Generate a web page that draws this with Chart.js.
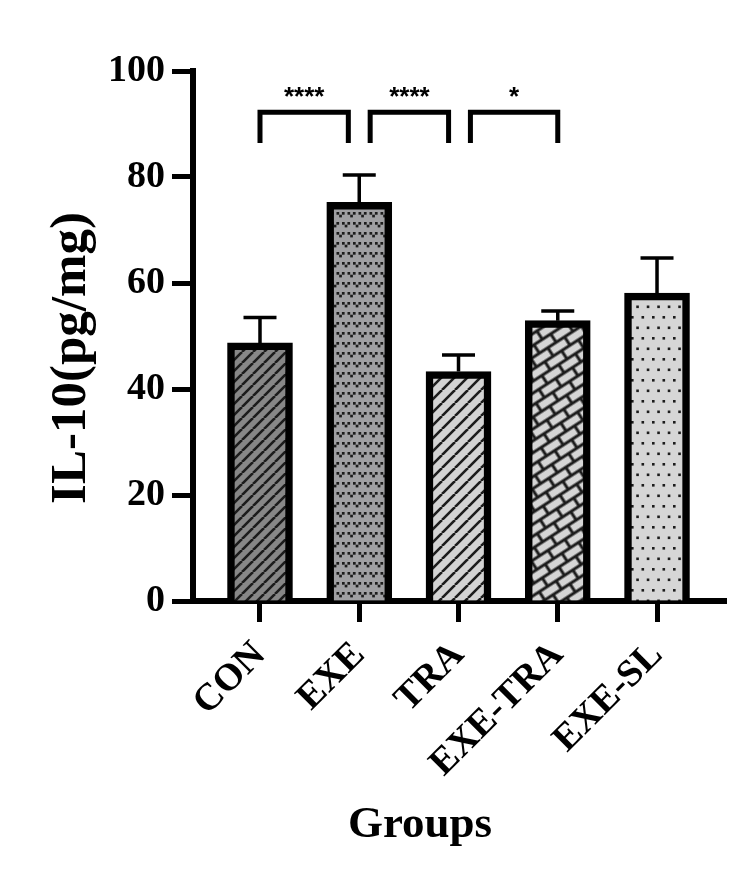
<!DOCTYPE html>
<html>
<head>
<meta charset="utf-8">
<script src="https://cdn.jsdelivr.net/npm/chart.js@4"></script>
<style>
  body { margin: 0; background: #fff; }
  canvas { display: block; }
</style>
</head>
<body>
<canvas id="chart" width="750" height="884"></canvas>
<script>
const labels = ['CON', 'EXE', 'TRA', 'EXE-TRA', 'EXE-SL'];
const means = [48.7, 75.2, 43.3, 52.9, 58.1];
const errs = [4.8, 5.2, 3.1, 1.8, 6.6];

// significance brackets (positions on the group axis)
const sigFrom = [0, 1.11, 2.12];
const sigTo = [0.89, 1.9, 3.0];
const sigText = ['****', '****', '*'];
const sigTop = 92.2;
const sigLeg = 86.4;

const yTicks = [0, 20, 40, 60, 80, 100];

const ctx = document.getElementById('chart').getContext('2d');
const ink = '#1c1c1c';

function makeTile(w, h, bg, paint) {
    const c = document.createElement('canvas');
    c.width = w;
    c.height = h;
    const g = c.getContext('2d');
    g.fillStyle = bg;
    g.fillRect(0, 0, w, h);
    g.fillStyle = ink;
    g.strokeStyle = ink;
    paint(g, w, h);
    return c;
}

function stripes(bg, p, lw) {
    return ctx.createPattern(makeTile(p, p, bg, (g) => {
        g.lineWidth = lw;
        g.beginPath();
        for (let k = -1; k <= 1; k++) {
            g.moveTo(k * p, p);
            g.lineTo(k * p + p, 0);
        }
        g.stroke();
    }), 'repeat');
}

function vees() {
    const s = 2.7;
    return ctx.createPattern(makeTile(11, 20, '#a0a0a3', (g, w) => {
        const v = (ox, oy) => {
            [[0, 0], [5.4, 0], [2.7, 2.7]].forEach(([dx, dy]) => {
                g.fillRect(ox + dx, oy + dy, s, s);
                g.fillRect(ox + dx - w, oy + dy, s, s);
            });
        };
        v(1, 2);
        v(6.5, 12);
    }), 'repeat');
}

function bricks() {
    const p = ctx.createPattern(makeTile(20, 20, '#d5d5d5', (g) => {
        const t = 3;
        g.fillRect(0, -t / 2, 20, t);
        g.fillRect(0, 10 - t / 2, 20, t);
        g.fillRect(0, 20 - t / 2, 20, t);
        g.fillRect(-t / 2, 0, t, 10);
        g.fillRect(20 - t / 2, 0, t, 10);
        g.fillRect(10 - t / 2, 10, t, 10);
    }), 'repeat');
    p.setTransform(new DOMMatrix().rotateSelf(-33));
    return p;
}

function dots() {
    const s = 2.6;
    return ctx.createPattern(makeTile(21, 21, '#d6d6d6', (g) => {
        [[1, 1], [11.5, 1], [6.25, 11.5], [16.75, 11.5]].forEach(([x, y]) => g.fillRect(x, y, s, s));
    }), 'repeat');
}

const fills = [
    stripes('#878787', 11, 2.6),
    vees(),
    stripes('#d3d3d3', 13, 2.6),
    bricks(),
    dots(),
];

const annot = {
    id: 'annot',
    afterDatasetsDraw(chart) {
        const { ctx, scales: { x, y } } = chart;
        ctx.save();
        ctx.strokeStyle = '#000';
        ctx.fillStyle = '#000';

        // error bars (upper half only)
        ctx.lineWidth = 3.5;
        means.forEach((m, i) => {
            const px = x.getPixelForValue(i);
            const top = y.getPixelForValue(m + errs[i]);
            ctx.beginPath();
            ctx.moveTo(px, y.getPixelForValue(m));
            ctx.lineTo(px, top);
            ctx.moveTo(px - 16.5, top);
            ctx.lineTo(px + 16.5, top);
            ctx.stroke();
        });

        // brackets
        ctx.lineWidth = 5;
        ctx.font = 'bold 26px "Liberation Sans"';
        ctx.textAlign = 'center';
        ctx.textBaseline = 'alphabetic';
        sigFrom.forEach((a, k) => {
            const x1 = x.getPixelForValue(a);
            const x2 = x.getPixelForValue(sigTo[k]);
            const yt = y.getPixelForValue(sigTop);
            const yl = y.getPixelForValue(sigLeg);
            ctx.beginPath();
            ctx.moveTo(x1, yl);
            ctx.lineTo(x1, yt);
            ctx.lineTo(x2, yt);
            ctx.lineTo(x2, yl);
            ctx.stroke();
            ctx.fillText(sigText[k], (x1 + x2) / 2, yt - 7);
        });

        // axis titles
        ctx.font = 'bold 45px "Liberation Serif"';
        ctx.fillText('Groups', 420, 837);
        ctx.font = 'bold 51px "Liberation Serif"';
        ctx.translate(85, 358);
        ctx.rotate(-Math.PI / 2);
        ctx.fillText('IL-10(pg/mg)', 0, 0);
        ctx.restore();
    }
};

const tickFont = { family: '"Liberation Serif"', weight: 'bold', size: 38 };

new Chart(ctx, {
    type: 'bar',
    data: {
        datasets: [{
            data: means.map((v, i) => ({ x: i, y: v })),
            backgroundColor: fills,
            borderColor: '#000',
            borderWidth: 7.5,
            barThickness: 65,
        }]
    },
    options: {
        responsive: false,
        animation: false,
        layout: { padding: { top: 71, right: 24, left: 0, bottom: 0 } },
        plugins: {
            legend: { display: false },
            tooltip: { enabled: false },
        },
        scales: {
            x: {
                type: 'linear',
                min: -0.675,
                max: 4.695,
                offset: false,
                afterFit: (s) => { s.height = 283; },
                afterBuildTicks: (s) => { s.ticks = labels.map((_, i) => ({ value: i })); },
                border: { color: '#000', width: 6 },
                grid: { offset: false, drawOnChartArea: false, tickLength: 21, tickWidth: 5, tickColor: '#000' },
                ticks: {
                    autoSkip: false,
                    maxRotation: 45,
                    minRotation: 45,
                    padding: 11,
                    color: '#000',
                    font: tickFont,
                    callback: (v) => labels[v],
                },
            },
            y: {
                min: 0,
                max: 100,
                afterFit: (s) => { s.width = 193; },
                afterBuildTicks: (s) => { s.ticks = yTicks.map((v) => ({ value: v })); },
                border: { color: '#000', width: 6 },
                grid: { drawOnChartArea: false, tickLength: 21, tickWidth: 5, tickColor: '#000' },
                ticks: { padding: 7, color: '#000', font: tickFont },
            },
        },
    },
    plugins: [annot],
});
</script>
</body>
</html>
